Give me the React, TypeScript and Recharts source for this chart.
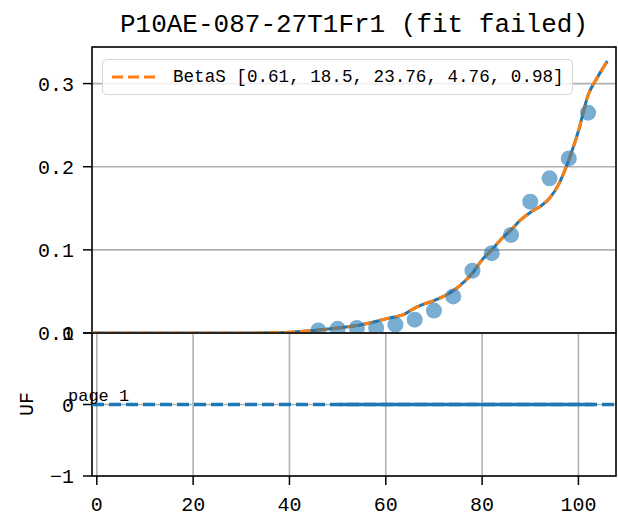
import React from 'react';
import {
  ComposedChart,
  LineChart,
  Line,
  Scatter,
  XAxis,
  YAxis,
  CartesianGrid,
  ReferenceArea,
} from 'recharts';

const FONT = '"Liberation Mono", "DejaVu Sans Mono", monospace';

// ---- data ----
const titleText = 'P10AE-087-27T1Fr1 (fit failed)';
const legendText = 'BetaS [0.61, 18.5, 23.76, 4.76, 0.98]';
const pageText = 'page 1';
const uLabel = 'UF';

const xTicks = [0, 20, 40, 60, 80, 100];
const topYTicks = [0, 0.1, 0.2, 0.3];
const bottomYTicks = [-1, 0, 1];

const xDomain: [number, number] = [-1, 107.8];
const topYDomain: [number, number] = [0, 0.344];
const bottomYDomain: [number, number] = [-1, 1];

const pointX = [46, 50, 54, 58, 62, 66, 70, 74, 78, 82, 86, 90, 94, 98, 102];
const pointY = [0.003, 0.005, 0.006, 0.006, 0.01, 0.016, 0.027, 0.044, 0.075, 0.096, 0.118, 0.158, 0.186, 0.21, 0.265];

const curveX = [-1, 10, 20, 30, 35, 40, 45, 50, 55, 60, 64, 66, 68, 70, 72, 75, 78, 80, 82, 84, 86, 88, 90, 92, 94, 96, 98, 100, 102, 104, 106];
const curveY = [0, 0, 0, 0, 0.0003, 0.001, 0.003, 0.006, 0.01, 0.017, 0.023, 0.03, 0.035, 0.039, 0.044, 0.055, 0.072, 0.088, 0.1, 0.113, 0.124, 0.136, 0.145, 0.152, 0.162, 0.18, 0.208, 0.243, 0.286, 0.308, 0.327];

const ufDashX = [-1, 107.8];
const ufDashY = [0, 0];
const ufSolidX = [50.4, 103.2];
const ufSolidY = [0, 0];

const points = pointX.map((x, i) => ({ x, y: pointY[i] }));
const curve = curveX.map((x, i) => ({ x, y: curveY[i] }));
const ufDash = ufDashX.map((x, i) => ({ x, y: ufDashY[i] }));
const ufSolid = ufSolidX.map((x, i) => ({ x, y: ufSolidY[i] }));

const BLUE = '#1f77b4';
const ORANGE = '#ff7f0e';
const GRID = '#b0b0b0';

const tickStyle = { fontSize: 20, fill: '#000', fontFamily: FONT };

const Dot = (props: any) => (
  <circle cx={props.cx} cy={props.cy} r={8} fill={BLUE} fillOpacity={0.6} />
);

export default function App() {
  return (
    <div style={{ position: 'absolute', left: 0, top: 0, width: 618, height: 519, background: '#fff' }}>
      <div style={{ position: 'absolute', left: 0, top: 0 }}>
        <ComposedChart width={618} height={352} margin={{ top: 47, right: 2, bottom: 19, left: 0 }}>
          <CartesianGrid stroke={GRID} strokeWidth={1.6} />
          <XAxis
            type="number"
            dataKey="x"
            domain={xDomain}
            ticks={xTicks}
            interval={0}
            allowDataOverflow
            height={0}
            tick={false}
            tickLine={false}
            axisLine={false}
          />
          <YAxis
            type="number"
            dataKey="y"
            domain={topYDomain}
            ticks={topYTicks}
            interval={0}
            allowDataOverflow
            width={92}
            tick={tickStyle}
            tickFormatter={(v: number) => v.toFixed(1)}
            tickSize={9}
            tickMargin={9}
            tickLine={{ stroke: '#000', strokeWidth: 1.5 }}
            axisLine={false}
          />
          <Scatter data={points} dataKey="y" shape={Dot} isAnimationActive={false} />
          <Line data={curve} dataKey="y" type="monotone" stroke={BLUE} strokeWidth={3} dot={false} isAnimationActive={false} />
          <Line data={curve} dataKey="y" type="monotone" stroke={ORANGE} strokeWidth={3} strokeDasharray="11 5" dot={false} isAnimationActive={false} />
          <ReferenceArea x1={xDomain[0]} x2={xDomain[1]} y1={topYDomain[0]} y2={topYDomain[1]} fill="none" stroke="#000" strokeWidth={1.5} ifOverflow="visible" />
        </ComposedChart>
      </div>
      <div style={{ position: 'absolute', left: 0, top: 300 }}>
        <LineChart width={618} height={219} margin={{ top: 33, right: 2, bottom: 0, left: 0 }}>
          <CartesianGrid stroke={GRID} strokeWidth={1.6} />
          <XAxis
            type="number"
            dataKey="x"
            domain={xDomain}
            ticks={xTicks}
            interval={0}
            allowDataOverflow
            height={43}
            tick={tickStyle}
            tickSize={9}
            tickMargin={12}
            tickLine={{ stroke: '#000', strokeWidth: 1.5 }}
            axisLine={false}
          />
          <YAxis
            type="number"
            dataKey="y"
            domain={bottomYDomain}
            ticks={bottomYTicks}
            interval={0}
            allowDataOverflow
            width={92}
            tick={tickStyle}
            tickFormatter={(v: number) => String(v).replace('-', '\u2212')}
            tickSize={9}
            tickMargin={9}
            tickLine={{ stroke: '#000', strokeWidth: 1.5 }}
            axisLine={false}
          />
          <Line data={ufDash} dataKey="y" type="linear" stroke={BLUE} strokeWidth={3.5} strokeDasharray="12 5" dot={false} isAnimationActive={false} />
          <Line data={ufSolid} dataKey="y" type="linear" stroke={BLUE} strokeWidth={3.5} dot={false} isAnimationActive={false} />
          <ReferenceArea x1={xDomain[0]} x2={xDomain[1]} y1={bottomYDomain[0]} y2={bottomYDomain[1]} fill="none" stroke="#000" strokeWidth={1.5} ifOverflow="visible" />
        </LineChart>
      </div>
      <div
        style={{
          position: 'absolute',
          left: 102,
          top: 59,
          width: 471,
          height: 36,
          boxSizing: 'border-box',
          border: '1.5px solid #d4d4d4',
          borderRadius: 5,
          background: 'rgba(255,255,255,0.8)',
          display: 'flex',
          alignItems: 'center',
          fontFamily: FONT,
          fontSize: 17.6,
          color: '#000',
          whiteSpace: 'pre',
        }}
      >
        <svg width={70} height={10} style={{ marginLeft: 0, flex: 'none' }}>
          <line x1={9} y1={5} x2={52} y2={5} stroke={ORANGE} strokeWidth={3} strokeDasharray="11 5" />
        </svg>
        <span>{legendText}</span>
      </div>
      <svg width={618} height={519} style={{ position: 'absolute', left: 0, top: 0, pointerEvents: 'none' }}>
        <text x={354} y={32} textAnchor="middle" fontFamily={FONT} fontSize={26} fill="#000">
          {titleText}
        </text>
        <text x={68} y={401} fontFamily={FONT} fontSize={17} fill="#000">
          {pageText}
        </text>
        <text transform="translate(33,404) rotate(-90)" textAnchor="middle" fontFamily={FONT} fontSize={20} fill="#000">
          {uLabel}
        </text>
      </svg>
    </div>
  );
}
